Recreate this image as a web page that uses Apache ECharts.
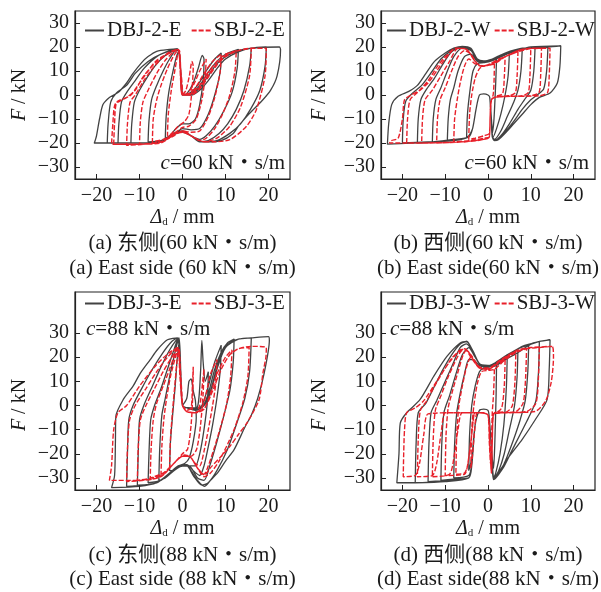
<!DOCTYPE html>
<html><head><meta charset="utf-8">
<script src="https://cdn.jsdelivr.net/npm/echarts@6/dist/echarts.min.js"></script>
<style>html,body{margin:0;padding:0;background:#fff}#c{width:601px;height:592px}</style>
</head><body><div id="c"></div>
<script>
const xTicks = [-20, -10, 0, 10, 20];
const yTicks = [-30, -20, -10, 0, 10, 20, 30];
const seriesNames = [['DBJ-2-E','SBJ-2-E'],['DBJ-2-W','SBJ-2-W'],['DBJ-3-E','SBJ-3-E'],['DBJ-3-W','SBJ-3-W']];
const dampingLabels = ['60','60','88','88'];
const captionsCN = ['(a) 东侧(60 kN・s/m)','(b) 西侧(60 kN・s/m)','(c) 东侧(88 kN・s/m)','(d) 西侧(88 kN・s/m)'];
const captionsEN = ['(a) East side (60 kN・s/m)','(b) East side(60 kN・s/m)','(c) East side (88 kN・s/m)','(d) East side(88 kN・s/m)'];

// (a) DBJ-2-E
const dbj2E = [
[0,0],[1,0.5],[2.5,5],[3.8,12],[4.6,16.5],[5,15],[4.8,6],[4,-4],[3,-10],[1.5,-12],[0,-12],[-1.5,-14],[-3,-17],[-4,-18],[-3.8,-9],[-3.2,1],[-2.2,10],[-1.4,16],[-0.9,18],[-0.5,12],[-0.2,3],[0,0],
[1.5,0.5],[3.5,4],[5.5,10],[7.5,15],[9,17.5],[8.8,10],[7.5,0],[6,-8],[4,-14],[2,-14.5],[0,-14],[-2,-16.5],[-5,-19],[-8,-19.5],[-7.8,-11],[-7.2,-2],[-6,4],[-4.5,10],[-3,15],[-1.5,18.5],[-0.8,18.5],[-0.4,9],[0,0],
[2,0.5],[4,4],[6,9.5],[8,14],[10,17],[13,19],[12.7,11],[11.5,1],[9.5,-7],[7.5,-13],[5.5,-17],[4,-18.5],[2,-17],[0,-15],[-2,-16.5],[-5,-19],[-9,-20],[-12,-20],[-11.8,-12],[-11.2,-3],[-10,2],[-8,8],[-6,13],[-4,16.5],[-2,18.5],[-1,19],[-0.5,12],[-0.1,1],[0,0],
[2,0.3],[4,3],[6,8],[8,13],[10,16],[13,18.5],[16,19.5],[15.6,12],[14.3,2],[12.5,-6],[10.5,-12],[8.5,-16],[6,-19],[4,-19.5],[2,-17],[0,-15],[-2,-16],[-5,-19],[-10,-20],[-15,-20],[-14.8,-12],[-14.2,-3],[-13,1],[-11,6],[-9,11],[-6,16],[-3,18.5],[-1,19],[-0.5,12],[0,0],
[2,0],[4,2],[6,6],[8,11],[10,15],[13,18],[16,19.5],[19.5,20],[19.2,12],[18,2],[15.8,-6],[13.5,-12],[11,-16],[8,-19],[4.5,-19.5],[2,-17],[0,-15.5],[-2,-16],[-5,-19],[-10,-20],[-17.5,-20],[-17.3,-12],[-16.7,-3],[-15.3,1],[-13,4],[-11,9],[-8,14],[-5,17],[-2,18.8],[-1,19],[-0.5,12],[0,0],
[2,0],[4,2],[6,6],[8,11],[10,15],[13,18],[16,19.5],[22.5,20],[22.8,19],[22,8],[20.5,2],[18.7,-2],[16.5,-6],[14.9,-9],[13,-13],[11.8,-16],[9,-19],[6,-19.5],[4,-19.5],[2,-17],[0,-15],[-2,-16.5],[-5,-19.5],[-10,-20],[-20.5,-20],[-20,-17],[-19.3,-10],[-18.5,-4],[-17,-1],[-15,1],[-13,5],[-11.5,9],[-9.5,13.5],[-8,16],[-6,18.2],[-3,19],[-1.2,19.2],[-0.6,14],[-0.2,4],[0,0]
];
// (a) SBJ-2-E
const sbj2E = [
[0,0],[0.8,2],[1.6,8],[2.2,14],[2.5,12],[2.2,2],[1.5,-8],[0.5,-11],[-1,-13],[-2.5,-16],[-3.5,-17],[-3.3,-8],[-2.6,2],[-1.8,10],[-1.1,17],[-0.7,18.5],[-0.4,10],[0,0],
[1,0.5],[2.5,4],[4,10],[5.5,15],[5.3,8],[4.5,-2],[3.2,-10],[1.5,-13],[0,-13.5],[-2,-16],[-4.5,-18.5],[-7,-19.5],[-6.8,-10],[-6,-2],[-5,4],[-3.5,11],[-2,16.5],[-1,18.8],[-0.5,12],[0,1],[0,0],
[1.5,0.5],[3,3],[5,9],[7,14],[9,17],[8.7,9],[7.5,-1],[6,-9],[4,-15],[2,-15.5],[0,-15],[-2,-17],[-5,-19.5],[-10,-20.5],[-9.8,-11],[-9.2,-3],[-8,2],[-6,9],[-4,14.5],[-2,18],[-1,19],[-0.5,12],[0,0],
[2,0.5],[4,4],[6,9.5],[8,14],[10,17],[12.5,18.5],[12.2,10],[11,0],[9.3,-8],[7.5,-14],[5.5,-18],[4,-19],[2,-17],[0,-15.5],[-2,-16.5],[-5,-19.5],[-9,-20.5],[-13,-21],[-12.8,-12],[-12.2,-3],[-11,0],[-9,6],[-7,11],[-5,15],[-3,18],[-1,19],[-0.5,12],[0,0],
[2,0.3],[4,3],[6,8.5],[8,13],[10,16.5],[13,18.5],[16,19.5],[15.6,8],[13.5,-5],[11,-13],[8,-18],[5,-19.5],[2,-17],[0,-15.5],[-2,-16],[-5,-19.5],[-10,-20.5],[-16,-20.5],[-15.8,-12],[-15.3,-3],[-13,-1],[-11,2],[-9,8],[-6,14],[-3,17.5],[-1,19],[-0.6,12],[-0.3,2],[0,0],
[2,0],[4,2.5],[6,7.5],[8,12.5],[10,16],[13,18.5],[16,19.5],[19.5,19.5],[19.2,8],[17.2,-6],[14.9,-13],[11,-18.6],[7,-19.5],[4,-19],[2,-17],[0,-15],[-2,-16.5],[-5,-20],[-10,-20.5],[-16.5,-20.5],[-16.2,-12],[-15.7,-4],[-14,-2],[-12,0],[-10,5],[-8,10],[-6,14.5],[-3,17.5],[-1,19],[-0.6,12],[-0.3,2],[0,0]
];
// (b) DBJ-2-W
const dbj2W = [
[2,15],[1.8,5],[1.4,-10],[1,-16],[0.7,-9],[0.4,-1],[0,0],[-1,0.5],[-2,0],[-2.8,-6],[-3.6,-14],[-4.5,-17],[-5,-17.5],[-4.8,-8],[-4.2,2],[-3.5,10],[-2.5,13],[-1,13.5],[0.5,14],[2,15],
[5,17.5],[4.7,8],[4,0],[3,-8],[2,-14],[1.2,-17.5],[0.8,-10],[0.4,-1],[0,0],[-1,0.5],[-2,0],[-2.8,-6],[-3.6,-14],[-4.5,-17.5],[-7,-18.5],[-9.5,-19],[-9.3,-10],[-8.8,-2],[-8,3],[-7,10],[-5.5,16],[-4,17],[-2.5,14],[-1,13.5],[1,14.5],[3,16.5],[5,17.5],
[8,19],[7.7,10],[7,2],[6,-3],[4.5,-9],[3,-15],[1.5,-18.5],[1,-17],[0.7,-9],[0.4,-1],[0,0],[-1,0.5],[-2,0],[-2.8,-6],[-3.6,-14],[-4.5,-17.5],[-8,-19],[-13,-19.5],[-12.8,-10],[-12.2,-2],[-11,3],[-9.5,10],[-8,16],[-6,19.5],[-4,18.5],[-2.5,14.5],[-1,13.5],[1,14.5],[4,17],[8,19],
[11,20],[10.7,10],[10,2],[8.5,-2],[7,-6],[5,-12],[3,-17],[1.5,-19],[1,-17],[0.7,-9],[0.4,-1],[0,0],[-1,0.5],[-2,0],[-2.8,-6],[-3.6,-14],[-4.5,-17.5],[-8,-19],[-16.5,-20],[-16.3,-10],[-15.7,-2],[-14.5,2],[-12.5,7],[-10.5,13],[-8.5,18],[-6,20],[-4,19],[-2.5,14.5],[-1,14],[1,15],[4,17.5],[8,19],[11,20],
[14,20],[13.7,10],[13,2.5],[11.5,0],[10,-2],[8,-6],[6,-11],[4,-15.5],[2.5,-18.5],[1.5,-19],[1,-17],[0.7,-9],[0.4,-1],[0,0],[-1,0.5],[-2,0],[-2.8,-6],[-3.6,-14],[-4.5,-17.5],[-8,-19],[-14,-19.5],[-20,-20],[-19.8,-10],[-19.2,-2.5],[-17.5,1],[-15.5,4],[-13,10],[-11,15],[-8.5,18.5],[-6,20],[-4,19],[-2.5,14.5],[-1,14],[1,15],[4,17.5],[8,19.5],[14,20],
[17,20.5],[16.8,12],[16.2,5],[14.5,0.8],[12,-1],[10,-4],[8,-8],[6,-12],[4,-16],[2.5,-18.5],[1.5,-19],[1,-17.5],[0.7,-9],[0.4,-1],[0,0],[-1,0.5],[-2,0],[-2.8,-6],[-3.6,-14],[-4.5,-17.5],[-8,-18.5],[-13,-19.5],[-18,-20],[-23.5,-20.5],[-23.2,-12],[-22.5,-4],[-21,-0.5],[-18.5,1.5],[-16.5,4],[-14.5,9],[-12.5,14],[-10,17.5],[-8,19.5],[-6,20.3],[-4,19.5],[-2.5,15],[-1,14.2],[1,15],[3,16.5],[6,18],[10,20],[17,20.5]
];
// (b) SBJ-2-W
const sbj2W = [
[1.5,13],[1.4,5],[1.2,0],[0.8,-2],[0.5,-9],[0.3,-16],[-1,-17],[-3,-18],[-4.5,-18.5],[-4.3,-8],[-3.8,0],[-3,7],[-2,11],[-1,12],[0.5,12.5],[1.5,13],
[4,16],[3.8,7],[3.4,0.5],[2,-0.5],[0.8,-2],[0.5,-9],[0.3,-17.5],[-1,-18],[-4,-19],[-8,-19.5],[-7.8,-10],[-7.2,-2],[-6.5,5],[-5.5,12],[-4.5,15],[-3,13],[-1.5,12],[0.5,13],[2.5,15],[4,16],
[7,18],[6.8,8],[6.4,1],[5,-0.3],[2,-0.8],[0.8,-2],[0.5,-9],[0.3,-17.5],[-1,-18.5],[-5,-19.5],[-12,-20],[-11.8,-10],[-11.2,-2],[-10,3],[-8.5,10],[-7,16],[-5.5,18.5],[-4,17],[-2.5,13],[-1,12],[1,13],[4,16],[7,18],
[10,19.5],[9.8,8],[9.4,1],[8,-0.3],[4,-0.6],[1.5,-1],[0.8,-2],[0.5,-9],[0.3,-17.5],[-1,-18.5],[-6,-19.5],[-15.5,-20],[-15.3,-10],[-14.7,-2],[-13,2],[-11,8],[-9,14],[-7,19.5],[-5,19],[-3,14],[-1.5,12],[1,13],[4,16],[7,18.5],[10,19.5],
[12.5,19.5],[12.3,8],[11.9,1],[10,-0.3],[4,-0.6],[1.5,-1],[0.8,-2],[0.5,-9],[0.3,-17.5],[-1,-18.5],[-6,-19.5],[-12,-20],[-19,-20],[-18.8,-10],[-18.2,-2],[-16.5,1],[-14,5],[-12,10],[-10,15],[-7.5,19.5],[-5,19],[-3,14],[-1.5,12],[1,13],[4,16],[8,19],[12.5,19.5],
[14.5,19.5],[14.3,8],[13.9,1],[12,-0.3],[4,-0.6],[1.5,-1],[0.8,-2],[0.5,-9],[0.3,-17.5],[-1,-18.5],[-6,-19.5],[-14,-20],[-23,-20],[-22.6,-19],[-21,-18],[-20,-10],[-19.5,-2],[-18,0],[-16,2],[-14,6],[-12,11.5],[-10,16],[-7.5,19.5],[-5,19],[-3,14],[-1.5,12],[1,13],[4,16],[8,19],[14.5,19.5]
];
// (c) DBJ-3-E
const dbj3E = [
[0,0],[1,3],[1.5,10],[2,11],[2.5,6],[3,2],[3.2,-5],[2.5,-15],[1.5,-22],[0.5,-24],[-1,-25],[-2.5,-27],[-3,-27],[-2.8,-15],[-2.2,-2],[-1.7,8],[-1.2,20],[-0.8,26],[-0.4,14],[0,0],
[2,-1],[3.5,-0.5],[4.2,14],[4.5,27],[4.8,18],[5.3,10],[6,14],[5.8,2],[5,-10],[4,-20],[3,-25],[1.5,-25],[0,-25],[-2,-27],[-4,-30],[-5.5,-31],[-5.3,-18],[-4.8,-4],[-4,3],[-3,12],[-2,20],[-1.2,26],[-0.8,27],[-0.4,14],[0,0],
[1,-1],[3,-1.5],[4.5,0],[6,8],[7.5,18],[9,25],[8.8,15],[8,3],[7,-8],[6,-17],[5,-25],[4,-29],[2.5,-27],[1,-24.5],[-1,-25],[-3,-28],[-5,-31],[-8,-32],[-7.8,-20],[-7.4,-6],[-6.5,0],[-5,7],[-3.5,15],[-2.2,22],[-1.2,27],[-0.8,27.5],[-0.4,14],[0,0],
[1,-1],[3,-2],[4.8,0],[6,5],[7.5,15],[9,22],[10.5,26],[12,27.5],[11.8,18],[11,6],[9.5,-5],[8,-15],[6.5,-24],[5,-31],[3.5,-30],[1.5,-25],[-1,-25.5],[-3,-28],[-6,-32],[-10.5,-33],[-10.3,-20],[-10,-6],[-9,0],[-7,8],[-5,16],[-3,23],[-1.5,27],[-0.8,28],[-0.4,14],[0,0],
[1,-1],[3,-2],[5,0],[6.5,6],[8,16],[9.5,23],[11,26],[13,27.5],[16,28],[15.6,14],[14.5,3],[12.5,-8],[10.5,-18],[8,-27],[6,-32],[4.5,-33],[2.5,-29],[1,-25],[-1,-25.5],[-3,-28],[-6,-32],[-13,-33.5],[-12.8,-20],[-12.5,-6],[-11.5,0],[-9.5,7],[-7,15],[-4.5,22],[-2.5,26.5],[-1.2,28],[-0.5,16],[0,0],
[1,-1],[3,-2],[5,0],[6.5,5],[8,15],[10,24],[13,27.5],[16,28],[20,28.5],[20.2,27],[19,13.4],[17.5,3],[16,-4],[14.5,-9],[12,-18.3],[10,-23],[8.2,-27.8],[6.5,-31],[5.1,-33.5],[3.5,-31],[2,-27],[1,-25],[-1,-25.5],[-3,-28],[-6,-32],[-10,-33.5],[-16.5,-34],[-15.8,-29],[-15.6,-15],[-15.5,-4.5],[-13.8,2.4],[-11.5,8],[-9.8,13.4],[-7.5,19],[-5.9,23],[-3.5,27.2],[-1.2,28],[-0.6,18],[-0.2,4],[0,0]
];
// (c) SBJ-3-E
const sbj3E = [
[0,0],[1,-2],[2,-1],[2.3,8],[2.5,16],[2.4,5],[2,-8],[1.2,-18],[0,-20],[-1.5,-23],[-3,-26],[-2.8,-14],[-2.3,-2],[-1.8,8],[-1.3,18],[-0.9,23],[-0.5,12],[0,0],
[1,-2.5],[3,-3],[4,0],[4.7,10],[5,15],[4.8,5],[4.2,-8],[3.3,-18],[2,-21],[0.5,-20.5],[-1.5,-23],[-3.5,-27],[-5,-29],[-4.8,-17],[-4.3,-5],[-3.6,4],[-2.8,12],[-1.8,19],[-1,23.5],[-0.5,12],[0,0],
[1,-2.5],[3,-3],[4.5,-1],[5.5,5],[6.5,13],[8,19],[7.8,10],[7,0],[6,-10],[5,-19],[4,-25],[3,-24],[1.5,-21],[0,-21],[-2,-24],[-4.5,-28],[-7.5,-30],[-7.3,-18],[-6.8,-6],[-6,1],[-4.5,8],[-3,15],[-1.8,21],[-1,24],[-0.5,12],[0,0],
[1,-2.5],[3,-3],[5,-1.5],[6.5,5],[8,13],[10,20],[11.5,23],[11.2,12],[10.3,1],[9,-8],[7.5,-17],[6,-25],[5,-28.5],[3.5,-26],[1.5,-21],[0,-21],[-2,-24],[-5,-29],[-10.5,-31],[-10.3,-18],[-9.8,-6],[-8.5,0],[-6.5,7],[-4.5,14],[-2.5,20],[-1,24],[-0.5,12],[0,0],
[1,-2.5],[3,-3],[5,-1.5],[7,6],[9,15],[11,21],[13,23.5],[15.5,24],[15.2,12],[14,1],[12.2,-9],[10.5,-16],[8.5,-23],[6.5,-28],[5,-29.5],[3.5,-26],[1.5,-21],[0,-21],[-2,-24],[-5,-29.5],[-9,-31],[-13,-31.5],[-12.8,-18],[-12.3,-6],[-11,0],[-8.5,7],[-6,14],[-3.5,20],[-1.2,24],[-0.6,12],[0,0],
[1,-2.5],[3,-3],[5,-1.5],[7,6],[9,15],[11,21],[13,23.5],[16,24.5],[19.5,24],[19.4,20],[18.7,13.4],[17.8,2.4],[15,-7.2],[13,-12],[11.2,-16.5],[9,-21],[6.4,-26],[5.1,-28.8],[3.5,-26],[1.5,-21],[0,-21],[-2,-24],[-5,-29.5],[-10,-31],[-17,-31],[-16.5,-25],[-16,-10],[-15,-3],[-13,0],[-10,8],[-6,17],[-3,22],[-1,24],[-0.5,15],[0,0]
];
// (d) DBJ-3-W
const dbj3W = [
[2,18],[1.9,5],[1.6,-15],[1.3,-26],[0.8,-18],[0.3,-5],[0,-2],[-1,-1.5],[-2,-2],[-3,-8],[-3.8,-22],[-4.5,-27],[-4.3,-12],[-3.8,0],[-3,8],[-2,14],[-1,15.5],[0.5,16],[2,18],
[4.5,21],[4.3,8],[3.7,-8],[2.8,-20],[1.8,-28],[1.3,-30],[0.8,-18],[0.3,-5],[0,-2],[-1,-1.5],[-2,-2],[-3,-8],[-3.8,-24],[-4.5,-29],[-8,-30],[-7.8,-16],[-7.3,-3],[-6.5,5],[-5.5,13],[-4.5,19],[-3.5,19],[-2,16.5],[-0.5,16],[1.5,17.5],[4.5,21],
[7,23.5],[6.8,12],[6.2,0],[5,-10],[3.8,-20],[2.5,-27],[1.3,-30.5],[0.8,-18],[0.3,-5],[0,-2],[-1,-1.5],[-2,-2],[-3,-8],[-3.8,-25],[-4.5,-30],[-8,-30.5],[-11,-31],[-10.8,-16],[-10.3,-3],[-9,4],[-7.5,13],[-6,21],[-4.5,24],[-3,20],[-1.5,16.5],[1,16.5],[4,20],[7,23.5],
[9.5,25],[9.3,14],[8.7,2],[7.5,-6],[6,-14],[4.5,-21],[3,-27],[1.5,-30.5],[0.8,-18],[0.3,-5],[0,-2],[-1,-1.5],[-2,-2],[-3,-8],[-3.8,-25],[-4.5,-30],[-9,-31],[-14,-31.5],[-13.8,-16],[-13.3,-3],[-12,2],[-10,10],[-8,18],[-6.5,24],[-5,25.5],[-3.5,22],[-1.8,17],[1,16.5],[4.5,20.5],[7.5,24],[9.5,25],
[12,26.5],[11.8,14],[11.2,2],[9.5,-5],[7.5,-12],[5.5,-19],[3.5,-26],[1.5,-30.5],[0.8,-18],[0.3,-5],[0,-2],[-1,-1.5],[-2,-2],[-3,-8],[-3.8,-25],[-4.5,-30],[-10,-31.5],[-17,-32],[-16.8,-16],[-16.3,-3],[-14.5,1],[-12.5,8],[-10.5,15],[-8.5,21],[-6.5,25.5],[-5,26.5],[-3.5,22.5],[-1.8,17],[1,16.5],[5,21],[8,24.5],[12,26.5],
[14.5,27.2],[14.3,15],[13.8,2.4],[11,-6],[8,-14],[5,-21],[2.9,-26.6],[1.3,-30.7],[0.8,-18],[0.3,-5],[0,-2],[-1,-1.5],[-2,-2],[-3,-8],[-3.8,-25],[-4.5,-30],[-10,-31],[-16,-32],[-21.3,-32],[-20.8,-20],[-20.5,-7.3],[-19,-3],[-15.9,2.4],[-12.7,12],[-9.6,20.3],[-6.5,25.9],[-4.9,26.5],[-3.5,22],[-1.8,16.9],[1.3,16.2],[4,19],[6.8,21.7],[10.6,25.9],[14.5,27.2]
];
// (d) SBJ-3-W
const sbj3W = [
[1.5,15],[1.3,5],[1,-3],[0.8,-15],[0.6,-24],[0.3,-15],[0,-4],[-1,-3],[-2.5,-3],[-3.2,-12],[-3.7,-22],[-4,-26],[-3.8,-10],[-3.3,0],[-2.5,9],[-1.5,14],[0,14.5],[1.5,15],
[4,19],[3.8,8],[3.2,-1],[2,-3],[1.2,-3.5],[1,-15],[0.8,-26],[0.4,-16],[0,-4],[-1.5,-3],[-3,-3],[-3.8,-12],[-4.8,-25],[-5.5,-28],[-7.5,-28.5],[-7.3,-12],[-6.8,0],[-6,8],[-5,16],[-4,20],[-3,18],[-2,15.5],[0,15],[2,17],[4,19],
[6.5,22],[6.3,10],[5.7,0],[4.5,-2.5],[1.5,-3],[1,-15],[0.8,-27],[0.4,-16],[0,-4],[-1.5,-3],[-3,-3],[-3.8,-12],[-4.8,-25],[-5.5,-28.5],[-10,-29],[-9.8,-12],[-9.3,-1],[-8.3,6],[-7,14],[-5.8,21],[-5,23],[-3.5,19],[-2,15.5],[0,15],[3,18.5],[6.5,22],
[9,23.5],[8.8,12],[8.2,1],[6.5,-2.5],[3,-3],[1.3,-3.5],[1,-15],[0.8,-27.5],[0.4,-16],[0,-4],[-2,-3],[-6,-3],[-7,-10],[-8,-22],[-9,-28.5],[-13,-29.5],[-12.8,-14],[-12.3,-2],[-11,4],[-9.5,11],[-8,17],[-6.5,22],[-5.5,23.5],[-3.8,19.5],[-2,15.5],[0,15],[3,18.5],[6,22],[9,23.5],
[12,24],[11.8,12],[11.2,1],[9,-2.5],[4,-3],[1.3,-3.5],[1,-15],[0.8,-27.5],[0.4,-16],[0,-4],[-2,-3],[-8,-3],[-10,-3],[-11,-12],[-12,-24],[-13,-29],[-16.5,-29.5],[-16.3,-14],[-15.8,-2],[-14.3,2],[-12.5,8],[-10.5,14],[-8.5,19.5],[-6.5,23],[-5.5,23.5],[-3.8,19.5],[-2,15.5],[0,15],[3,18.5],[6,22],[9,23.5],[12,24],
[15,24.5],[15.3,20],[14.8,10],[13.5,2],[11,-2.5],[5,-3],[1.3,-3.5],[1,-15],[0.8,-28],[0.4,-16],[0,-4],[-2,-3],[-8,-3],[-14,-3.5],[-15,-12],[-16,-24],[-17,-29],[-19.8,-29.5],[-19.7,-20],[-19.5,-10],[-19,-3],[-17,-1],[-15,2],[-12,10],[-9,18],[-7,22],[-5.5,23.5],[-4,21],[-2,16],[0,15.5],[3,19],[7,23],[10,24],[15,24.5]
];

const blackData = [dbj2E, dbj2W, dbj3E, dbj3W];
const redData = [sbj2E, sbj2W, sbj3E, sbj3W];

const FONT = "'Liberation Serif', 'Noto Sans CJK SC', serif";
const INK = '#1a1a1a';
const BLACK = '#2e2e2e';
const RED = '#e8202a';
const grids = [
  {left: 75, top: 11, width: 215, height: 168},
  {left: 381, top: 11, width: 214, height: 168},
  {left: 75, top: 292, width: 215, height: 198},
  {left: 381, top: 292, width: 214, height: 198}
];
const yMax = [35, 35, 47, 47];
const minusFmt = v => (v < 0 ? '\u2212' + Math.abs(v) : String(v));

const option = {
  animation: false,
  backgroundColor: '#fff',
  grid: grids.map(g => Object.assign({show: true, borderColor: '#222', borderWidth: 1.2, backgroundColor: 'transparent', containLabel: false}, g)),
  xAxis: grids.map((g, i) => ({
    type: 'value', gridIndex: i, min: -25, max: 25,
    name: '{i|Δ}{s|d} / mm', nameLocation: 'middle', nameGap: 28,
    nameTextStyle: {fontFamily: FONT, fontSize: 20, color: INK,
      rich: {i: {fontStyle: 'italic', fontFamily: FONT, fontSize: 20, color: INK},
             s: {fontFamily: FONT, fontSize: 11, color: INK, padding: [10, 0, 0, 0]}}},
    axisLine: {show: true, onZero: false, lineStyle: {color: '#222', width: 1.2}},
    axisTick: {show: true, inside: true, length: 5, customValues: xTicks, lineStyle: {color: '#222'}},
    axisLabel: {customValues: xTicks, formatter: minusFmt, fontFamily: FONT, fontSize: 20, color: INK, margin: 7},
    splitLine: {show: false}
  })),
  yAxis: grids.map((g, i) => ({
    type: 'value', gridIndex: i, min: -35, max: yMax[i],
    axisLine: {show: true, onZero: false, lineStyle: {color: '#222', width: 1.2}},
    axisTick: {show: true, inside: true, length: 5, customValues: yTicks, lineStyle: {color: '#222'}},
    axisLabel: {customValues: yTicks, formatter: minusFmt, fontFamily: FONT, fontSize: 20, color: INK, margin: 6},
    splitLine: {show: false}
  })),
  legend: [
    {left: 84, top: 20, itemGap: 9},
    {left: 386, top: 20, itemGap: 3},
    {left: 84, top: 293, itemGap: 9},
    {left: 386, top: 293, itemGap: 3}
  ].map((p, i) => Object.assign({
    data: seriesNames[i], itemWidth: 19, itemHeight: 10, padding: 0, width: 214, orient: 'horizontal',
    itemStyle: {color: 'transparent', borderColor: 'transparent', borderWidth: 0, opacity: 0},
    textStyle: {fontFamily: FONT, fontSize: 21, color: INK, padding: [0, 0, 0, -2]},
    selectedMode: false
  }, p)),
  series: [],
  graphic: []
};

for (let i = 0; i < 4; i++) {
  option.series.push({
    name: seriesNames[i][0], type: 'line', xAxisIndex: i, yAxisIndex: i, data: blackData[i],
    symbol: 'none', showSymbol: false, smooth: 0.25, color: BLACK,
    lineStyle: {color: BLACK, width: 1.3, opacity: 0.9}, z: 2
  });
  option.series.push({
    name: seriesNames[i][1], type: 'line', xAxisIndex: i, yAxisIndex: i, data: redData[i],
    symbol: 'none', showSymbol: false, smooth: 0.25, color: RED,
    lineStyle: {color: RED, width: 1.4, type: [5, 2]}, z: 3
  });
}

function txt(x, y, text, opts) {
  return {
    type: 'text', x: x, y: y, z: 10,
    style: Object.assign({text: text, fontFamily: FONT, fontSize: 21, fill: INK,
      align: 'center', verticalAlign: 'middle', textAlign: 'center', textVerticalAlign: 'middle'}, opts || {})
  };
}
const centers = [182.5, 488, 182.5, 488];
const capY = [[243, 268], [243, 268], [555, 579], [555, 579]];
const yNamePos = [[20, 95], [320, 95], [20, 405], [320, 405]];
const cPos = [[285, 163, 'right'], [589, 163, 'right'], [86, 329, 'left'], [390, 329, 'left']];
for (let i = 0; i < 4; i++) {
  option.graphic.push(txt(centers[i], capY[i][0], captionsCN[i], {fontSize: 21}));
  option.graphic.push(txt(centers[i], capY[i][1], captionsEN[i], {fontSize: 21}));
  const yn = txt(yNamePos[i][0], yNamePos[i][1], '{i|F} / kN',
    {fontSize: 20, rich: {i: {fontStyle: 'italic', fontFamily: FONT, fontSize: 20, fill: INK}}});
  yn.rotation = Math.PI / 2;
  option.graphic.push(yn);
  option.graphic.push(txt(cPos[i][0], cPos[i][1], '{i|c}=' + dampingLabels[i] + ' kN・s/m',
    {align: cPos[i][2], textAlign: cPos[i][2],
     rich: {i: {fontStyle: 'italic', fontFamily: FONT, fontSize: 21, fill: INK}}}));
}

const chart = echarts.init(document.getElementById('c'), null, {renderer: 'canvas'});
chart.setOption(option);
</script></body></html>
